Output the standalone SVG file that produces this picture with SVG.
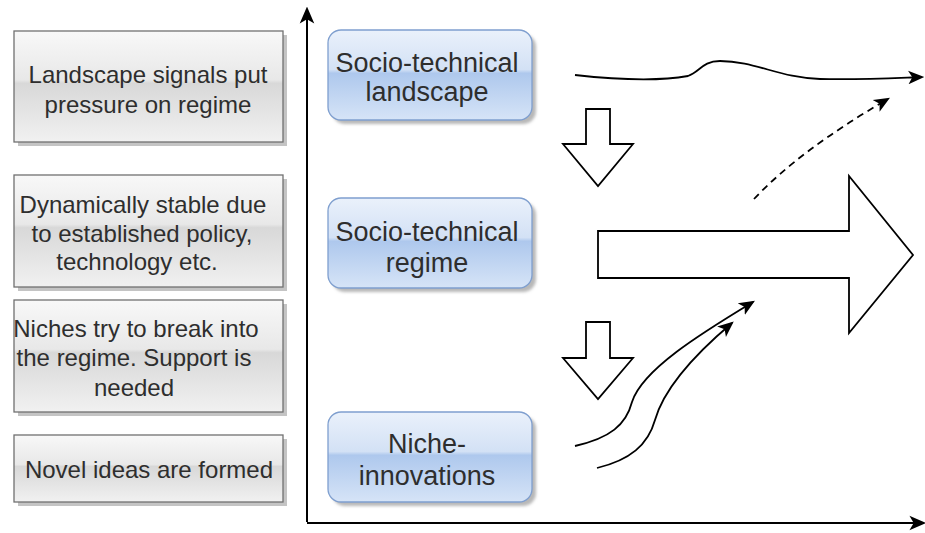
<svg xmlns="http://www.w3.org/2000/svg" width="925" height="533" viewBox="0 0 925 533">
  <defs>
    <linearGradient id="glassGray" x1="0" y1="0" x2="0" y2="1">
      <stop offset="0" stop-color="#f8f8f8"/>
      <stop offset="0.44" stop-color="#e8e8e8"/>
      <stop offset="0.47" stop-color="#d8d8d8"/>
      <stop offset="1" stop-color="#f1f1f1"/>
    </linearGradient>
    <linearGradient id="glassBlue" x1="0" y1="0" x2="0" y2="1">
      <stop offset="0" stop-color="#eaf1fb"/>
      <stop offset="0.44" stop-color="#d3e1f5"/>
      <stop offset="0.48" stop-color="#aec8ed"/>
      <stop offset="1" stop-color="#d6e4f7"/>
    </linearGradient>
    <filter id="softShadow" x="-10%" y="-10%" width="130%" height="140%">
      <feGaussianBlur stdDeviation="1.5"/>
    </filter>
    <marker id="head" viewBox="0 0 14 14" refX="12" refY="7" markerWidth="17" markerHeight="17" markerUnits="userSpaceOnUse" orient="auto">
      <path d="M0,1 L14,7 L0,13 L3.5,7 Z" fill="#000"/>
    </marker>
    <marker id="headSmall" viewBox="0 0 14 14" refX="12" refY="7" markerWidth="16" markerHeight="16" markerUnits="userSpaceOnUse" orient="auto">
      <path d="M0,1 L14,7 L0,13 L3.5,7 Z" fill="#000"/>
    </marker>
  </defs>
  <style>
    .note { fill: url(#glassGray); stroke: #707070; stroke-width: 1.3; }
    .noteShadow { fill: #c4c4c4; }
    .stage { fill: url(#glassBlue); stroke: #7f9fcf; stroke-width: 1.3; }
    .stageShadow { fill: #b8b8b8; filter: url(#softShadow); }
    .lbl { font-family: "Liberation Sans", Arial, sans-serif; font-size: 24px; fill: #2e2e2e; text-anchor: middle; }
    .big { font-size: 27px; }
    .axis { stroke: #000; stroke-width: 2; fill: none; marker-end: url(#head); }
    .flow { stroke: #000; stroke-width: 1.8; fill: none; marker-end: url(#headSmall); }
    .block { fill: #fff; stroke: #000; stroke-width: 1.8; stroke-linejoin: miter; }
  </style>

  <!-- Explanatory notes (left column) -->
  <g id="note-landscape">
    <rect class="noteShadow" x="18" y="35" width="269" height="111"/>
    <rect class="note" x="14" y="31" width="269" height="111"/>
    <text class="lbl" x="148" y="83">Landscape signals put</text>
    <text class="lbl" x="148" y="113">pressure on regime</text>
  </g>
  <g id="note-regime">
    <rect class="noteShadow" x="18" y="179" width="269" height="112"/>
    <rect class="note" x="14" y="175" width="269" height="112"/>
    <text class="lbl" x="143" y="213">Dynamically stable due</text>
    <text class="lbl" x="142" y="242">to established policy,</text>
    <text class="lbl" x="137" y="270">technology etc.</text>
  </g>
  <g id="note-niches">
    <rect class="noteShadow" x="18" y="304" width="269" height="112"/>
    <rect class="note" x="14" y="300" width="269" height="112"/>
    <text class="lbl" x="136" y="337">Niches try to break into</text>
    <text class="lbl" x="134" y="366">the regime. Support is</text>
    <text class="lbl" x="134" y="396">needed</text>
  </g>
  <g id="note-novel">
    <rect class="noteShadow" x="18" y="439" width="269" height="67"/>
    <rect class="note" x="14" y="435" width="269" height="67"/>
    <text class="lbl" x="149" y="478">Novel ideas are formed</text>
  </g>

  <!-- Levels of the socio-technical system -->
  <g id="level-landscape">
    <rect class="stageShadow" x="332" y="34" width="204" height="90" rx="13"/>
    <rect class="stage" x="328" y="30" width="204" height="90" rx="13"/>
    <text class="lbl big" x="427" y="72">Socio-technical</text>
    <text class="lbl big" x="427" y="101">landscape</text>
  </g>
  <g id="level-regime">
    <rect class="stageShadow" x="332" y="202" width="204" height="90" rx="13"/>
    <rect class="stage" x="328" y="198" width="204" height="90" rx="13"/>
    <text class="lbl big" x="427" y="241">Socio-technical</text>
    <text class="lbl big" x="427" y="272">regime</text>
  </g>
  <g id="level-niche">
    <rect class="stageShadow" x="332" y="416" width="204" height="90" rx="13"/>
    <rect class="stage" x="328" y="412" width="204" height="90" rx="13"/>
    <text class="lbl big" x="427" y="453">Niche-</text>
    <text class="lbl big" x="427" y="485">innovations</text>
  </g>

  <!-- Block arrows -->
  <g id="pressure-down-1">
    <polygon class="block" points="586,109 610,109 610,144 633,144 598,186 563,144 586,144"/>
  </g>
  <g id="pressure-down-2">
    <polygon class="block" points="586,322 610,322 610,358 633,358 598,399 563,358 586,358"/>
  </g>
  <g id="regime-trajectory">
    <polygon class="block" points="598,231 849,231 849,176 913,255 849,333 849,278 598,278"/>
  </g>

  <!-- Axes and flow lines -->
  <g id="connectors">
    <path class="axis" d="M307,522 L307,9"/>
    <path class="axis" d="M307,523 L924,523"/>
    <path class="flow" d="M575,75 C620,80 660,81 688,76 C700,72 702,61 720,61 C755,61 780,78 820,79 C860,80 895,78 922,77"/>
    <path class="flow" stroke-dasharray="7 5" d="M754,199 Q800,150 888,99"/>
    <path class="flow" d="M575,446 C610,438 626,425 632,402 C642,370 700,334 753,302"/>
    <path class="flow" d="M597,468 C630,460 648,445 655,420 C665,385 700,350 732,323"/>
  </g>
</svg>
